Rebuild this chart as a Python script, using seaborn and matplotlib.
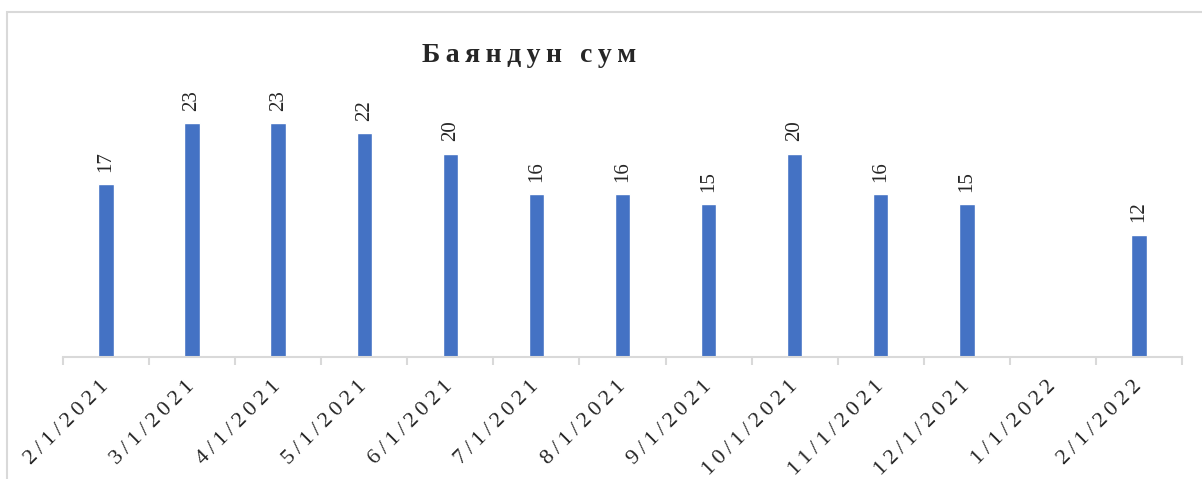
import numpy as np
import pandas as pd
import matplotlib
matplotlib.use("Agg")
import matplotlib.pyplot as plt
import seaborn as sns
from matplotlib.patches import Rectangle

# data
dates = ["2/1/2021", "3/1/2021", "4/1/2021", "5/1/2021", "6/1/2021", "7/1/2021",
         "8/1/2021", "9/1/2021", "10/1/2021", "11/1/2021", "12/1/2021", "1/1/2022",
         "2/1/2022"]
values = [17, 23, 23, 22, 20, 16, 16, 15, 20, 16, 15, np.nan, 12]
title = "Баяндун сум"

df = pd.DataFrame({"date": dates, "value": values})

sns.set_theme(style="white")
plt.rcParams["font.family"] = ["Liberation Serif", "DejaVu Serif"]

BLUE = "#4472C4"
GRID = "#D9D9D9"


def spread(s, sep="\u2009"):
    # Excel-style letter spacing
    return sep.join(s)


fig = plt.figure(figsize=(12.02, 4.79), dpi=100)
ax = fig.add_axes([63 / 1202, 1 - 357 / 479, 1119 / 1202, 277 / 479])

sns.barplot(data=df, x="date", y="value", order=dates, color=BLUE,
            width=0.18, saturation=1, ax=ax)

ax.set_xlim(-0.5, len(dates) - 0.5)
ax.set_ylim(0, 27.24)
ax.set_xlabel("")
ax.set_ylabel("")
ax.set_yticks([])

for side in ["top", "right", "left"]:
    ax.spines[side].set_visible(False)
ax.spines["bottom"].set_color(GRID)
ax.spines["bottom"].set_linewidth(1.5)

# category ticks sit between bars
ax.set_xticks(range(len(dates)))
ax.set_xticklabels([spread(d) for d in dates], rotation=45, ha="right",
                   va="center", rotation_mode="anchor", fontsize=16)
ax.tick_params(axis="x", which="major", length=0, pad=19)
ax.set_xticks(np.arange(-0.5, len(dates), 1), minor=True)
ax.tick_params(axis="x", which="minor", length=6, width=1.5, color=GRID,
               bottom=True)

for p in ax.patches:
    h = p.get_height()
    if np.isnan(h) or h == 0:
        continue
    ax.annotate(f"{h:.0f}", (p.get_x() + p.get_width() / 2, h),
                xytext=(0, 9), textcoords="offset points",
                ha="center", va="bottom", rotation=90, fontsize=15)

fig.text(529 / 1202, 1 - 55 / 479, spread(title), ha="center", va="center",
         fontsize=20, fontweight="bold")

# outer chart border
fig.patches.append(Rectangle((7 / 1202, -0.1), 1.2, 1 - 12 / 479 + 0.1,
                             transform=fig.transFigure, fill=False,
                             edgecolor=GRID, linewidth=1.5))

fig.savefig("out.png", dpi=100)
